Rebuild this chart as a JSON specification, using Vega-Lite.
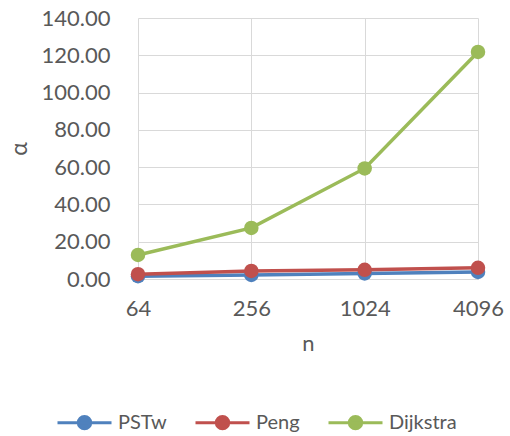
{
  "$schema": "https://vega.github.io/schema/vega-lite/v6.json",
  "width": 340,
  "height": 261,
  "autosize": "none",
  "padding": {"left": 138, "top": 18, "right": 32, "bottom": 157},
  "background": "white",
  "config": {
    "font": "Lato",
    "view": {"stroke": null},
    "axis": {"labelColor": "#595959", "titleColor": "#595959", "labelFont": "Lato", "titleFont": "Lato", "gridColor": "#D9D9D9", "gridWidth": 1}
  },
  "data": {
    "values": [
      {"n": "64", "series": "PSTw", "alpha": 1.5},
      {"n": "256", "series": "PSTw", "alpha": 2.2},
      {"n": "1024", "series": "PSTw", "alpha": 3.0},
      {"n": "4096", "series": "PSTw", "alpha": 3.8},
      {"n": "64", "series": "Peng", "alpha": 2.6},
      {"n": "256", "series": "Peng", "alpha": 4.3},
      {"n": "1024", "series": "Peng", "alpha": 4.9},
      {"n": "4096", "series": "Peng", "alpha": 6.0},
      {"n": "64", "series": "Dijkstra", "alpha": 12.9},
      {"n": "256", "series": "Dijkstra", "alpha": 27.4},
      {"n": "1024", "series": "Dijkstra", "alpha": 59.3},
      {"n": "4096", "series": "Dijkstra", "alpha": 121.8}
    ]
  },
  "encoding": {
    "x": {
      "field": "n", "type": "ordinal", "sort": ["64", "256", "1024", "4096"],
      "scale": {"type": "point", "padding": 0},
      "axis": {"title": "n", "labelAngle": 0, "labelFontSize": 22, "titleFontSize": 22, "titleFontWeight": "normal", "labelPadding": 19, "titlePadding": 14, "ticks": false, "domain": true, "domainColor": "#D9D9D9", "grid": true}
    },
    "y": {
      "field": "alpha", "type": "quantitative",
      "scale": {"domain": [0, 140], "nice": false},
      "axis": {"title": "α", "values": [0, 20, 40, 60, 80, 100, 120, 140], "format": ".2f", "labelFontSize": 22, "titleFontSize": 23, "titleFontWeight": "normal", "labelPadding": 28, "titlePadding": 10, "ticks": false, "domain": false, "grid": true}
    },
    "color": {
      "field": "series", "type": "nominal",
      "scale": {"domain": ["PSTw", "Peng", "Dijkstra"], "range": ["#4F81BD", "#C0504D", "#9BBB59"]},
      "legend": {
        "title": null, "orient": "none", "direction": "horizontal",
        "legendX": -82, "legendY": 376,
        "labelFontSize": 20, "labelColor": "#595959", "labelFont": "Lato",
        "symbolType": "M-1,0L1,0M-0.23,0A0.23,0.23 0 1,1 0.23,0A0.23,0.23 0 1,1 -0.23,0",
        "symbolSize": 2916, "symbolStrokeWidth": 3, "symbolOpacity": 1,
        "columnPadding": 22, "labelOffset": 5
      }
    }
  },
  "layer": [
    {"mark": {"type": "line", "strokeWidth": 3.5}},
    {"mark": {"type": "point", "filled": true, "size": 210, "opacity": 1}}
  ]
}
